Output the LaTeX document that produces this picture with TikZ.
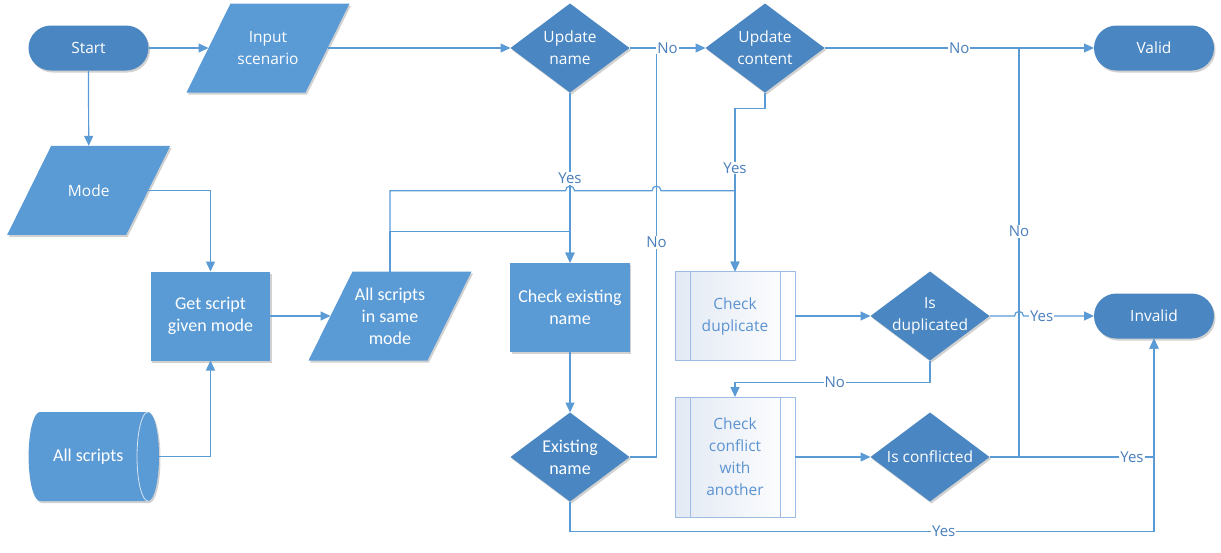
\documentclass[tikz,border=0pt]{standalone}
\usepackage{fontspec}
\newfontfamily\osans{Open Sans}
\newfontfamily\carl{Carlito}
\usetikzlibrary{shapes.geometric,arrows.meta,shadows}
\definecolor{darkb}{HTML}{4A86C2}
\definecolor{lightb}{HTML}{5B9BD5}
\definecolor{linec}{HTML}{5B9BD5}
\definecolor{lblc}{HTML}{4A7EBB}
\definecolor{subb}{HTML}{9DBCE3}
\definecolor{subtext}{HTML}{5B93D1}
\definecolor{subfill}{HTML}{E2E9F4}
\definecolor{cylline}{HTML}{D6E4F3}
\pgfdeclarelayer{back}
\pgfdeclarelayer{shapes}
\pgfsetlayers{back,shapes,main}
\tikzset{
  segoe/.style={font=\osans\fontsize{15.5}{22}\selectfont},
  calib/.style={font=\carl\fontsize{18}{22}\selectfont},
  shad/.style={drop shadow={shadow xshift=1.5pt, shadow yshift=-2pt, opacity=0.18, fill=black}},
  plain/.style={align=center, text=white, inner sep=0pt, outer sep=0pt},
  base/.style={plain, shad},
  term/.style={base, segoe, rectangle, rounded corners=22.5pt, fill=darkb, minimum width=120pt, minimum height=45pt},
  dec/.style={base, diamond, fill=darkb, minimum width=119pt, minimum height=89pt, inner sep=-12pt},
  io/.style={plain, rectangle, minimum width=119pt, minimum height=89pt},
  iofill/.style={fill=lightb, shad},
  proc/.style={base, calib, rectangle, fill=lightb, minimum width=119.5pt, minimum height=89pt},
  subproc/.style={rectangle, segoe, align=center, text=subtext, draw=subb, line width=0.8pt, left color=subfill, right color=white, minimum width=120pt, minimum height=#1, inner sep=0pt, outer sep=0pt,
    path picture={\draw[subb, line width=0.8pt] ([xshift=15pt]path picture bounding box.north west) -- ([xshift=15pt]path picture bounding box.south west) ([xshift=-15pt]path picture bounding box.north east) -- ([xshift=-15pt]path picture bounding box.south east);}},
  store/.style={plain, calib, rectangle, minimum width=119.4pt, minimum height=89pt},
  cylface/.style={draw=cylline, line width=0.8pt},
  conn/.style={draw=linec, line width=1.2pt, -{Triangle[length=10pt,width=9pt]}},
  link/.style={draw=linec, line width=1.2pt},
  lbl/.style={fill=white, text=lblc, font=\osans\fontsize{15}{18}\selectfont, inner sep=1pt},
}
\newcommand\drawio[1]{\fill[iofill] ([xshift=22pt]#1.north west) -- ([xshift=22pt]#1.north east) -- ([xshift=-22pt]#1.south east) -- ([xshift=-22pt]#1.south west) -- cycle;}
\begin{document}
\begin{tikzpicture}[x=1pt,y=-1pt]
\useasboundingbox (0,0) rectangle (1221,552);
\begin{pgfonlayer}{back}
\fill[white] (0,0) rectangle (1221,552);
\end{pgfonlayer}
% nodes
\node[term] (start) at (88.5,48) {Start};
\node[io, segoe] (inp) at (268,48) {Input\\scenario};
\node[dec, segoe] (un) at (570,48) {Update\\name};
\node[dec, segoe] (uc) at (765,48) {Update\\content};
\node[term] (val) at (1154,48) {Valid};
\node[io, segoe] (mode) at (88.7,190.3) {Mode};
\node[proc] (gs) at (210.5,316) {Get script\\given mode};
\node[io, calib] (asm) at (390,316) {All scripts\\in same\\mode};
\node[proc] (cen) at (570,307.2) {Check existing\\name};
\node[dec, calib] (en) at (570,457) {Existing\\name};
\node[store] (cyl) at (88.3,456.5) {All scripts};
\node[subproc=89pt] (cd) at (735,316) {Check\\duplicate};
\node[dec, segoe] (idup) at (930,316) {Is\\duplicated};
\node[term] (inv) at (1154,316) {Invalid};
\node[subproc=120pt] (cc) at (735,457) {Check\\conflict\\with\\another};
\node[dec, segoe] (icon) at (930,457) {Is conflicted};
% shape outlines drawn behind the text nodes
\begin{pgfonlayer}{shapes}
\drawio{inp}
\drawio{mode}
\drawio{asm}
\fill[lightb, shad] (40,501) .. controls (33.7,501) and (28.6,481.1) .. (28.6,456.5) .. controls (28.6,431.9) and (33.7,412) .. (40,412) -- (148,412) .. controls (154.1,412) and (159,431.9) .. (159,456.5) .. controls (159,481.1) and (154.1,501) .. (148,501) -- cycle;
\draw[cylface] (148,412) .. controls (141.9,412) and (137,431.9) .. (137,456.5) .. controls (137,481.1) and (141.9,501) .. (148,501);
\end{pgfonlayer}
% routing points
\coordinate (j1) at (656.5,48);
\coordinate (j2) at (1019,48);
\coordinate (c2) at (735,382.7);
\coordinate (c3) at (1154,531.7);
\coordinate (c4) at (765,108.3);
\coordinate (h1) at (390,190.7);
\coordinate (h2) at (570,231.7);
\coordinate (ce) at ([xshift=11pt]cyl.east);
% merging links (drawn first)
\draw[link] (en.east) -| node[lbl,pos=0.762] (n3) {No} (j1);
\draw[link] (icon.east) -| node[lbl,pos=0.776] (n5) {No} (j2);
% connectors
\draw[conn] (start.east) -- (inp.west);
\draw[conn] (inp.east) -- (un.west);
\draw[conn] (un.east) -- node[lbl] (n1) {No} (uc.west);
\draw[conn] (uc.east) -- node[lbl] (n2) {No} (val.west);
\draw[conn] (start.south) -- (mode.north);
\draw[conn] (mode.east) -| (gs.north);
\draw[conn] (ce) -| (gs.south);
\draw[conn] (gs.east) -- (asm.west);
\draw[conn] (un.south) -- node[lbl,pos=0.503] (y1) {Yes} (cen.north);
\draw[conn] (uc.south) -- (c4) -| node[lbl,pos=0.683] (y2) {Yes} (cd.north);
\draw[conn] (asm.north) |- (h2) -- (cen.north);
\draw[conn] (asm.north) -- (h1) -- (565.5,190.7) .. controls (565.5,184.7) and (574.5,184.7) .. (574.5,190.7) -- (652,190.7) .. controls (652,184.7) and (661,184.7) .. (661,190.7) -| (cd.north);
\draw[conn] (cen.south) -- (en.north);
\draw[conn] (en.south) |- node[lbl,pos=0.82] (y3) {Yes} (c3) -- (inv.south);
\draw[conn] (cd.east) -- (idup.west);
\draw[conn] (idup.east) -- (1014.5,316) .. controls (1014.5,310) and (1023.5,310) .. (1023.5,316) -- node[lbl,pos=0.257] (y4) {Yes} (inv.west);
\draw[conn] (idup.south) |- node[lbl,pos=0.744] (n4) {No} (c2) -- (cc.north);
\draw[conn] (cc.east) -- (icon.west);
\draw[conn] (icon.east) -| node[lbl,pos=0.433] (y5) {Yes} (inv.south);
\end{tikzpicture}
\end{document}
